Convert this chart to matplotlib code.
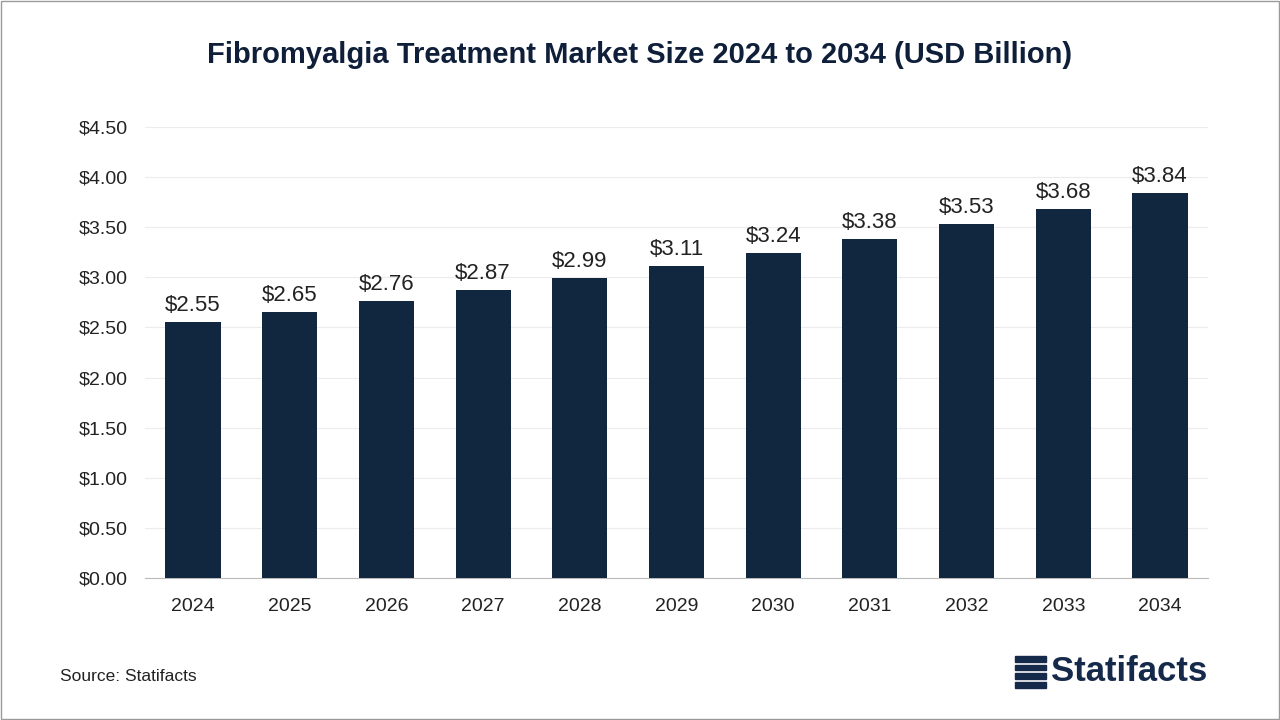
import matplotlib.pyplot as plt
from matplotlib.patches import Rectangle

plt.rcParams["font.family"] = "Liberation Sans"

years = ["2024", "2025", "2026", "2027", "2028", "2029", "2030", "2031", "2032", "2033", "2034"]
values = [2.55, 2.65, 2.76, 2.87, 2.99, 3.11, 3.24, 3.38, 3.53, 3.68, 3.84]
yticks = [0, 0.5, 1.0, 1.5, 2.0, 2.5, 3.0, 3.5, 4.0, 4.5]

bar_color = "#10273f"
text_color = "#222222"

fig = plt.figure(figsize=(12.8, 7.2), dpi=100)
fig.patches.append(Rectangle((0.001, 0.001), 0.998, 0.998, transform=fig.transFigure,
                             fill=False, edgecolor="#9a9a9a", lw=1))
ax = fig.add_axes([0.113, 0.197, 0.831, 0.627])

x = range(len(years))
ax.bar(x, values, width=0.57, color=bar_color, zorder=3)
for i, v in zip(x, values):
    ax.text(i, v + 0.06, f"${v:.2f}", ha="center", va="bottom", fontsize=16, color=text_color)

ax.set_xlim(-0.5, len(years) - 0.5)
ax.set_ylim(0, 4.5)
ax.set_yticks(yticks)
ax.set_yticklabels([f"${t:.2f}" for t in yticks], fontsize=14, color=text_color)
ax.set_xticks(list(x))
ax.set_xticklabels(years, fontsize=14, color=text_color)
ax.tick_params(axis="y", length=0, pad=12)
ax.tick_params(axis="x", length=0, pad=14)
ax.grid(axis="y", color="#ececec", lw=0.8, zorder=0)
for s in ["top", "right", "left"]:
    ax.spines[s].set_visible(False)
ax.spines["bottom"].set_color("#bbbbbb")

fig.text(0.5, 0.923, "Fibromyalgia Treatment Market Size 2024 to 2034 (USD Billion)",
         ha="center", va="center", fontsize=21, fontweight="bold", color="#0f1f3a")
fig.text(0.047, 0.06, "Source: Statifacts", fontsize=12.5, color=text_color, va="center")

# logo
for k in range(4):
    fig.patches.append(Rectangle((0.793, 0.045 + k * 0.012), 0.024, 0.008,
                                 transform=fig.transFigure, color="#15294a"))
fig.text(0.821, 0.068, "Statifacts", fontsize=25, fontweight="bold", color="#15294a", va="center")

fig.savefig("out.png", dpi=100)
